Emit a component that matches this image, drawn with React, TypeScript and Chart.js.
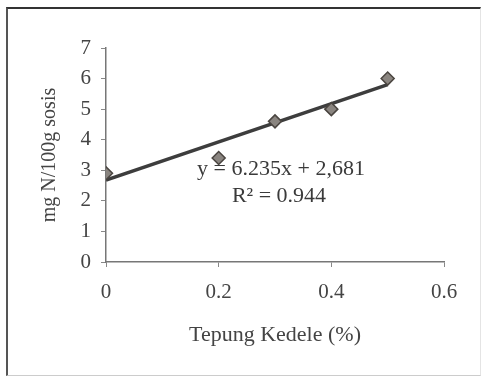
import React, { useEffect, useRef } from "react";
import { Chart, registerables } from "chart.js";

Chart.register(...registerables);

// Data
const xValues = [0, 0.2, 0.3, 0.4, 0.5];
const yValues = [2.9, 3.4, 4.6, 5.0, 6.0];
// Linear trendline (y = 6.235x + 2,681), drawn between x = 0 and x = 0.5
const trendX = [0, 0.5];
const trendY = [2.681, 5.799];
const xTicks = [0, 0.2, 0.4, 0.6];
const yTicks = [0, 1, 2, 3, 4, 5, 6, 7];
const equationLines = ["y = 6.235x + 2,681", "R² = 0.944"];
const xTitle = "Tepung Kedele (%)";
const yTitle = "mg N/100g sosis";

const FONT = "'Liberation Serif', 'Times New Roman', serif";

const equationPlugin = {
  id: "equation",
  afterDraw(chart: any) {
    const ctx = chart.ctx;
    ctx.save();
    ctx.fillStyle = "#3a3a3a";
    ctx.font = `22px ${FONT}`;
    ctx.textAlign = "center";
    ctx.textBaseline = "middle";
    ctx.fillText(equationLines[0], 281, 169);
    ctx.fillText(equationLines[1], 279, 196);
    ctx.restore();
  },
};

export default function App() {
  const ref = useRef<HTMLCanvasElement | null>(null);

  useEffect(() => {
    if (!ref.current) return;
    const chart = new Chart(ref.current, {
      type: "scatter",
      data: {
        datasets: [
          {
            label: "trend",
            type: "line",
            data: trendX.map((x, i) => ({ x, y: trendY[i] })),
            borderColor: "#3d3d3d",
            borderWidth: 3.5,
            pointRadius: 0,
            fill: false,
            order: 1,
          },
          {
            label: "data",
            data: xValues.map((x, i) => ({ x, y: yValues[i] })),
            pointStyle: "rectRot",
            pointRadius: 6.5,
            backgroundColor: "#8a8580",
            borderColor: "#4a4540",
            borderWidth: 1.5,
            order: 0,
          },
        ],
      },
      options: {
        responsive: false,
        animation: false,
        devicePixelRatio: 1,
        layout: { padding: { left: 0, right: 38, top: 48, bottom: 0 } },
        plugins: { legend: { display: false }, tooltip: { enabled: false } },
        scales: {
          x: {
            type: "linear",
            min: 0,
            max: 0.6,
            afterBuildTicks: (s: any) => {
              s.ticks = xTicks.map((v) => ({ value: v }));
            },
            afterFit: (s: any) => {
              s.height = 115;
            },
            ticks: {
              callback: (v: any) => (Number(v) === 0 ? "0" : Number(v).toFixed(1)),
              color: "#444",
              font: { family: FONT, size: 21 },
              padding: 13,
              maxRotation: 0,
            },
            grid: { drawOnChartArea: false, drawTicks: true, tickLength: 5, color: "#888" },
            border: { color: "#777", width: 1.5 },
            title: {
              display: true,
              text: xTitle,
              color: "#444",
              font: { family: FONT, size: 22 },
              padding: { top: 0, bottom: 29 },
            },
          },
          y: {
            min: 0,
            max: 7,
            afterBuildTicks: (s: any) => {
              s.ticks = yTicks.map((v) => ({ value: v }));
            },
            afterFit: (s: any) => {
              s.width = 106;
            },
            ticks: {
              color: "#444",
              font: { family: FONT, size: 21 },
              padding: 10,
            },
            grid: { drawOnChartArea: false, drawTicks: true, tickLength: 5, color: "#888" },
            border: { color: "#777", width: 1.5 },
            title: {
              display: true,
              text: yTitle,
              color: "#444",
              font: { family: FONT, size: 20 },
              padding: { top: 38, bottom: 0 },
            },
          },
        },
      },
      plugins: [equationPlugin],
    });
    return () => chart.destroy();
  }, []);

  return (
    <div style={{ position: "absolute", left: 0, top: 0, width: 482, height: 377, background: "#fff", overflow: "hidden" }}>
      <div
        style={{
          position: "absolute",
          left: 6,
          top: 7,
          width: 472,
          height: 366,
          borderTop: "2px solid #333",
          borderLeft: "2px solid #555",
          borderRight: "1px solid #e4e4e4",
          borderBottom: "1px solid #ccc",
        }}
      />
      <canvas ref={ref} width={482} height={377} style={{ position: "absolute", left: 0, top: 0, width: 482, height: 377 }} />
    </div>
  );
}
